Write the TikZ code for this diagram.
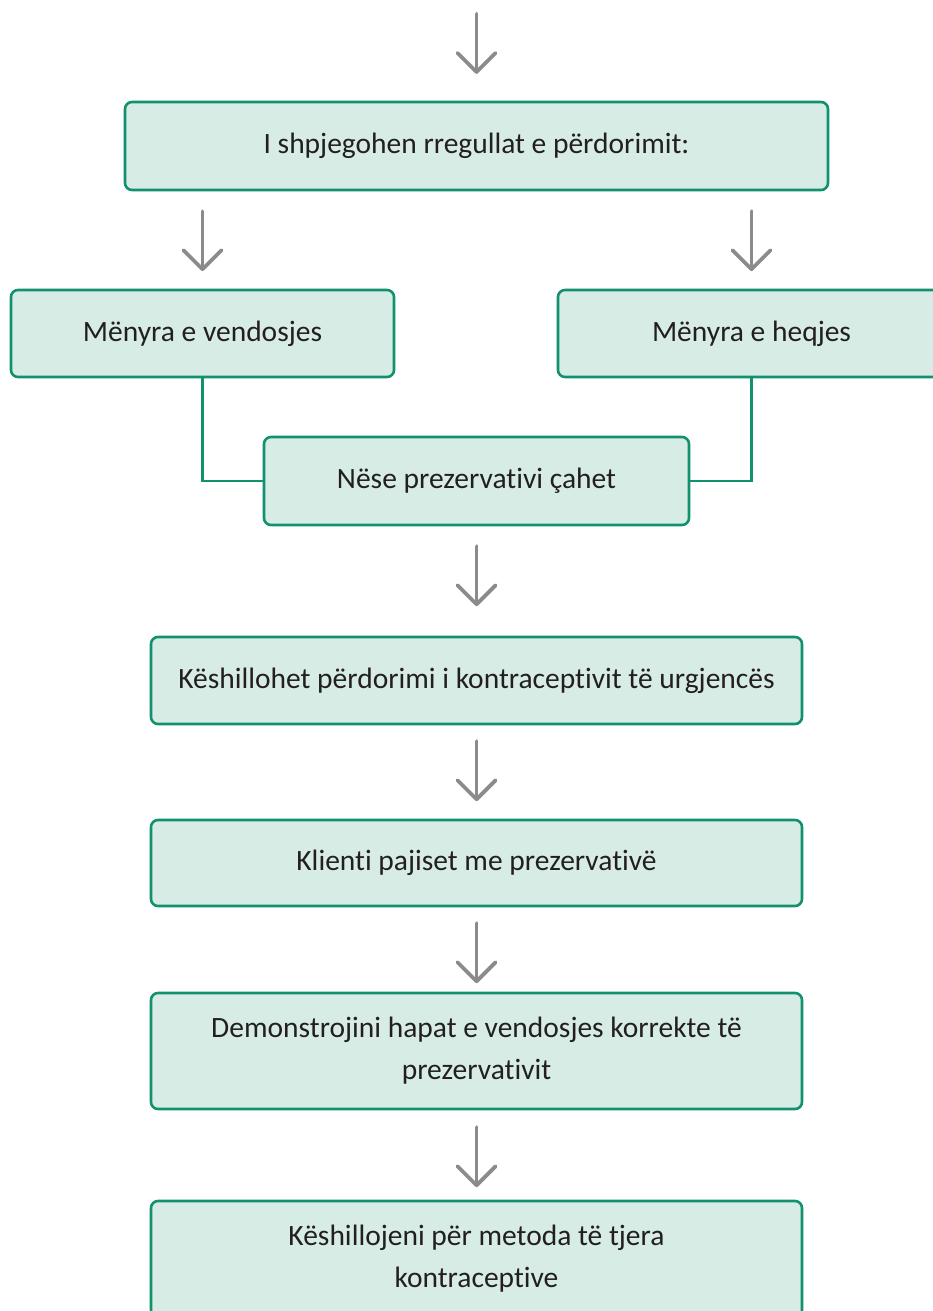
\documentclass[tikz,border=0pt]{standalone}
\usepackage{fontspec}
\setmainfont{Carlito}[Ligatures=NoCommon]
\usetikzlibrary{calc}
\definecolor{boxline}{HTML}{12916F}
\definecolor{boxfill}{HTML}{D7ECE4}
\definecolor{arrowgray}{HTML}{8B8B8D}
\definecolor{ink}{HTML}{231F20}
\tikzset{
  stepbox/.style={draw=boxline, fill=boxfill, line width=2.6pt, rounded corners=7pt,
    text=ink, align=center, inner sep=0pt,
    font=\fontsize{29.5}{42}\selectfont},
  conn/.style={draw=boxline, line width=2.4pt},
  arrowline/.style={draw=arrowgray, line width=3.8pt, line cap=round, line join=round},
  darrow/.pic={
    \draw[arrowline] (0,0) -- (0,58);
    \draw[arrowline] (-19,39) -- (0,58) -- (19,39);
  }
}
\begin{document}
\begin{tikzpicture}[x=1pt, y=-1pt]
  \useasboundingbox (0,0) rectangle (933,1311);
  \clip (0,0) rectangle (933,1311);

  % boxes
  \node[stepbox, minimum width=703pt, minimum height=88pt] (rules) at (476.5,146)
    {I shpjegohen rregullat e përdorimit:};
  \node[stepbox, minimum width=383pt, minimum height=87pt] (insert) at (202.5,333.5)
    {Mënyra e vendosjes};
  \node[stepbox, minimum width=387pt, minimum height=87pt] (remove) at (751.5,333.5)
    {Mënyra e heqjes};
  \node[stepbox, minimum width=425pt, minimum height=88pt] (breaks) at (476.5,481)
    {Nëse prezervativi çahet};
  \node[stepbox, minimum width=651pt, minimum height=87pt] (urgent) at (476.5,680.5)
    {Këshillohet përdorimi i kontraceptivit të urgjencës};
  \node[stepbox, minimum width=651pt, minimum height=86pt] (supply) at (476.5,863)
    {Klienti pajiset me prezervativë};
  \node[stepbox, minimum width=651pt, minimum height=116pt] (demo) at (476.5,1051)
    {Demonstrojini hapat e vendosjes korrekte të\\prezervativit};
  \node[stepbox, minimum width=651pt, minimum height=116pt] (advise) at (476.5,1259)
    {Këshillojeni për metoda të tjera\\kontraceptive};

  % elbow connectors into the middle box
  \draw[conn] (insert.south) |- (breaks.west);
  \draw[conn] (remove.south) |- (breaks.east);

  % down arrows
  \coordinate (entry) at (476.5,14);
  \pic at (entry) {darrow};
  \pic at ($(rules.south -| insert.south)+(0,20)$) {darrow};
  \pic at ($(rules.south -| remove.south)+(0,20)$) {darrow};
  \pic at ($(breaks.south)+(0,20)$) {darrow};
  \pic at ($(urgent.south)+(0,16)$) {darrow};
  \pic at ($(supply.south)+(0,16)$) {darrow};
  \pic at ($(demo.south)+(0,17)$) {darrow};
\end{tikzpicture}
\end{document}
